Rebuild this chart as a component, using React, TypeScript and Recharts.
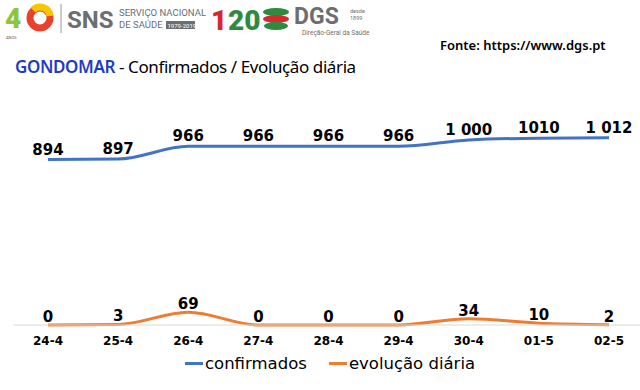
import React from "react";
import { LineChart, Line, XAxis, YAxis } from "recharts";

const days = ["24-4", "25-4", "26-4", "27-4", "28-4", "29-4", "30-4", "01-5", "02-5"];
const confirmados = [894, 897, 966, 966, 966, 966, 1000, 1010, 1012];
const confirmadosLabels = ["894", "897", "966", "966", "966", "966", "1 000", "1010", "1 012"];
const evolucao = [0, 3, 69, 0, 0, 0, 34, 10, 2];

const COLORS = {
  confirmados: "#4472C4",
  evolucao: "#ED7D31",
  axis: "#D9D9D9",
  title: "#1F3CC4",
};

const FONT = "'DejaVu Sans', Verdana, sans-serif";

const data = days.map((d, i) => ({
  day: d,
  confirmados: confirmados[i],
  evolucao: evolucao[i],
}));

function makeLabel(labels: string[], dy: number) {
  return (props: any) => {
    const { x, y, index } = props;
    return (
      <text
        key={index}
        x={x}
        y={y - dy}
        textAnchor="middle"
        fontFamily={FONT}
        fontSize={15}
        fontWeight="bold"
        fill="#000"
      >
        {labels[index]}
      </text>
    );
  };
}

function Logos() {
  return (
    <svg width={400} height={40} style={{ position: "absolute", left: 0, top: 0 }}>
      <text x={5} y={28} fontFamily="Roboto, sans-serif" fontWeight="900" fontSize={28} fill="#8CC63F">
        4
      </text>
      <circle cx={40} cy={18} r={10} fill="none" stroke="#E8412C" strokeWidth={7} />
      <path d="M33 10 A10 10 0 0 1 50 16" fill="none" stroke="#F7C600" strokeWidth={7} />
      <text x={6} y={39} fontFamily="Roboto, sans-serif" fontSize={4} fill="#555">
        ANOS
      </text>
      <line x1={61} y1={4} x2={61} y2={33} stroke="#999" strokeWidth={1} />
      <text x={67} y={28} fontFamily="Roboto, sans-serif" fontWeight="bold" fontSize={24} fill="#6D6E71">
        SNS
      </text>
      <text x={119} y={16} fontFamily="Roboto, sans-serif" fontSize={9.5} fill="#6D6E71">
        SERVIÇO NACIONAL
      </text>
      <text x={119} y={28} fontFamily="Roboto, sans-serif" fontSize={9.5} fill="#6D6E71">
        DE SAÚDE
      </text>
      <rect x={166} y={21} width={29} height={8} fill="#6D6E71" />
      <text x={167.5} y={27.5} fontFamily="Roboto, sans-serif" fontSize={6} fill="#fff">
        1979-2019
      </text>
      <text x={211} y={30} fontFamily="Roboto, sans-serif" fontWeight="900" fontSize={28} fill="#D7282F">
        1
      </text>
      <text x={228} y={30} fontFamily="Roboto, sans-serif" fontWeight="900" fontSize={28} fill="#2E8B3E">
        20
      </text>
      <ellipse cx={276} cy={12} rx={13} ry={4} fill="#2E8B3E" />
      <ellipse cx={276} cy={19} rx={13} ry={4} fill="#D7282F" />
      <ellipse cx={276} cy={26} rx={12} ry={4} fill="#2E8B3E" />
      <text x={294} y={24} fontFamily="Roboto, sans-serif" fontWeight="bold" fontSize={23} fill="#6D6E71">
        DGS
      </text>
      <text x={350} y={13} fontFamily="Roboto, sans-serif" fontSize={5.5} fill="#6D6E71">
        desde
      </text>
      <text x={350} y={20} fontFamily="Roboto, sans-serif" fontSize={5.5} fill="#6D6E71">
        1899
      </text>
      <text x={302} y={35} fontFamily="Roboto, sans-serif" fontSize={6.5} fill="#6D6E71">
        Direção-Geral da Saúde
      </text>
    </svg>
  );
}

export default function App() {
  return (
    <div
      style={{
        position: "absolute",
        left: 0,
        top: 0,
        width: 640,
        height: 390,
        overflow: "hidden",
        background: "#fff",
      }}
    >
      <Logos />
      <div
        style={{
          position: "absolute",
          left: 440,
          top: 36,
          fontFamily: "'Noto Sans', sans-serif",
          fontSize: 13,
          fontWeight: 600,
          color: "#000",
        }}
      >
        Fonte: https://www.dgs.pt
      </div>
      <div
        style={{
          position: "absolute",
          left: 15,
          top: 55,
          fontFamily: "'Noto Sans', sans-serif",
          fontSize: 17,
          letterSpacing: -0.4,
          color: "#000",
          whiteSpace: "nowrap",
        }}
      >
        <span style={{ color: COLORS.title, fontWeight: 600 }}>GONDOMAR</span> - Confirmados / Evolução diária
      </div>
      <div style={{ position: "absolute", left: 0, top: 90 }}>
        <LineChart
          width={646}
          height={300}
          data={data}
          margin={{ top: 13, right: 1, left: 13, bottom: 35 }}
        >
          <XAxis
            dataKey="day"
            axisLine={{ stroke: COLORS.axis }}
            tickLine={false}
            tickMargin={5}
            height={30}
            interval={0}
            padding={{ left: 35, right: 36 }}
            tick={{ fontFamily: FONT, fontSize: 12, fontWeight: "bold", fill: "#000" }}
          />
          <YAxis hide domain={[0, 1200]} />
          <Line
            type="monotone"
            dataKey="confirmados"
            stroke={COLORS.confirmados}
            strokeWidth={3}
            dot={false}
            isAnimationActive={false}
            label={makeLabel(confirmadosLabels, 5)}
          />
          <Line
            type="monotone"
            dataKey="evolucao"
            stroke={COLORS.evolucao}
            strokeWidth={3}
            dot={false}
            isAnimationActive={false}
            label={makeLabel(evolucao.map(String), 3)}
          />
        </LineChart>
      </div>
      <div
        style={{
          position: "absolute",
          left: 185,
          top: 354,
          fontFamily: FONT,
          fontSize: 16.5,
          color: "#000",
          display: "flex",
          alignItems: "center",
          whiteSpace: "nowrap",
        }}
      >
        <span style={{ display: "inline-block", width: 18, height: 3, background: COLORS.confirmados, marginRight: 2 }} />
        <span>confirmados</span>
        <span style={{ display: "inline-block", width: 18, height: 3, background: COLORS.evolucao, marginLeft: 22, marginRight: 2 }} />
        <span>evolução diária</span>
      </div>
    </div>
  );
}
